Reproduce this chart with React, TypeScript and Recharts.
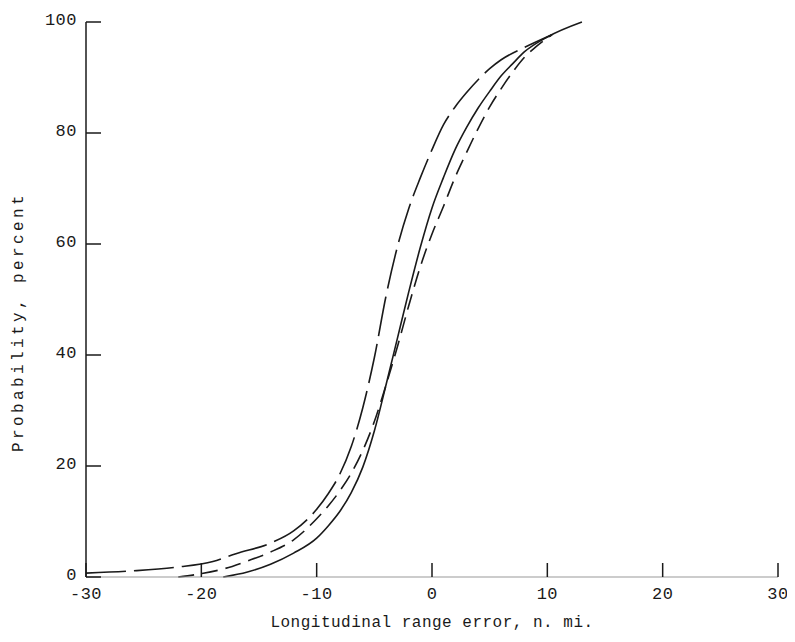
import React from 'react';
import { LineChart, Line, XAxis, YAxis } from 'recharts';

// tick labels
const xTicks = [-30, -20, -10, 0, 10, 20, 30];
const yTicks = [0, 20, 40, 60, 80, 100];

// solid curve
const solidX = [-18.1, -16, -14, -12, -10, -9, -8, -7, -6, -5, -4, -3, -2, -1, 0, 1, 2, 3, 4, 5, 6, 7, 8, 10, 13];
const solidY = [0, 0.9, 2.3, 4.3, 7, 9.2, 11.8, 15.2, 19.8, 26.3, 34.5, 43, 51.5, 59.5, 66.5, 72, 77, 81, 84.5, 87.5, 90.3, 92.5, 94.6, 97.3, 100];

// long-dash curve
const longX = [-30, -26, -22, -19, -17, -14, -12, -10, -9, -8, -7, -6, -5, -4, -3, -2, -1, 0, 1, 2, 3, 4, 5, 6, 8, 10.4];
const longY = [0.7, 1.1, 1.8, 2.8, 4.2, 6.1, 8.3, 12.2, 15, 18.5, 23.5, 30.5, 39.5, 50.5, 59.5, 66.5, 72, 77, 81.5, 84.7, 87.3, 89.6, 91.6, 93.2, 95.4, 97.7];

// short-dash curve
const shortX = [-22, -20, -18, -16, -14, -12, -10, -9, -8, -7, -6, -5, -4, -3, -2, -1, 0, 1, 2, 3, 4, 5, 6, 7, 8, 9, 10.4];
const shortY = [0, 0.6, 1.5, 2.9, 4.5, 6.7, 10.5, 12.8, 15.5, 18.7, 22.8, 28, 34.5, 41.5, 49, 56, 61.8, 66.8, 72, 76.5, 80.8, 84.7, 88, 91, 93.6, 95.5, 97.7];

const zip = (xs: number[], ys: number[]) => xs.map((x, i) => ({ x, y: ys[i] }));

const FONT = '"Liberation Mono", "DejaVu Sans Mono", monospace';
const INK = '#1a1a1a';

const YTick = (props: any) => {
  const { x, y, payload } = props;
  return (
    <g>
      <line x1={x} y1={y} x2={x + 15} y2={y} stroke={INK} strokeWidth={1.5} />
      <text x={x - 9} y={y - 3} dy="0.35em" textAnchor="end" fontFamily={FONT} fontSize={17} letterSpacing={0.5} fill={INK}>
        {payload.value}
      </text>
    </g>
  );
};

const XTick = (props: any) => {
  const { x, y, payload } = props;
  return (
    <g>
      <line x1={x} y1={y} x2={x} y2={y - 14} stroke={INK} strokeWidth={1.5} />
      <text x={x} y={y + 16} dy="0.35em" textAnchor="middle" fontFamily={FONT} fontSize={17} letterSpacing={0.5} fill={INK}>
        {payload.value}
      </text>
    </g>
  );
};

export default function App() {
  return (
    <LineChart width={780} height={630} margin={{ top: 14, right: 10, left: 0, bottom: 0 }}>
      <XAxis
        type="number"
        dataKey="x"
        domain={[-30, 30]}
        ticks={xTicks}
        tickSize={0}
        tickMargin={0}
        tickLine={false}
        tick={<XTick />}
        height={61}
        axisLine={{ stroke: '#999', strokeWidth: 1 }}
        allowDataOverflow
        label={() => (
          <text x={424} y={619} textAnchor="middle" fontFamily={FONT} fontSize={16} letterSpacing={0.5} fill={INK}>
            Longitudinal range error, n. mi.
          </text>
        )}
      />
      <YAxis
        type="number"
        domain={[0, 100]}
        ticks={yTicks}
        tickSize={0}
        tickMargin={0}
        tickLine={false}
        tick={<YTick />}
        width={78}
        axisLine={{ stroke: INK, strokeWidth: 1.5 }}
        label={() => (
          <text
            x={11}
            y={314}
            transform="rotate(-90, 11, 314)"
            textAnchor="middle"
            dominantBaseline="central"
            fontFamily={FONT}
            fontSize={16}
            letterSpacing={3.4}
            fill={INK}
          >
            Probability, percent
          </text>
        )}
      />
      <Line data={zip(solidX, solidY)} dataKey="y" type="monotone" stroke={INK} strokeWidth={1.6} dot={false} isAnimationActive={false} />
      <Line data={zip(longX, longY)} dataKey="y" type="monotone" stroke={INK} strokeWidth={1.6} strokeDasharray="40 8" dot={false} isAnimationActive={false} />
      <Line data={zip(shortX, shortY)} dataKey="y" type="monotone" stroke={INK} strokeWidth={1.6} strokeDasharray="16 8" dot={false} isAnimationActive={false} />
    </LineChart>
  );
}
